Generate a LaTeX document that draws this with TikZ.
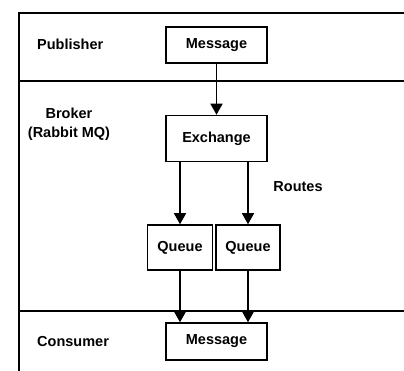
\documentclass[tikz,border=0pt]{standalone}
\usepackage{fontspec}
\setmainfont{Liberation Sans}
\usetikzlibrary{arrows.meta}
\begin{document}
\begin{tikzpicture}[x=1pt, y=-1pt, line join=miter,
    box/.style={draw, line width=1.5pt, inner sep=0pt, font=\bfseries\fontsize{14.5}{19}\selectfont},
    lbl/.style={font=\bfseries\fontsize{14.5}{19}\selectfont, align=center, inner sep=0pt},
    flow/.style={line width=1.5pt, -{Triangle[length=11pt,width=12pt]}}]

    \useasboundingbox (0,0) rectangle (404,371);
    \begin{scope}
        \clip (0,0) rectangle (404,371);
        \draw[line width=1.5pt] (19,380) -- (19,13) -- (410,13);
        \draw[line width=1.5pt] (19,81) -- (410,81);
        \draw[line width=1.5pt] (19,311) -- (410,311);
    \end{scope}

    \node[lbl, anchor=west] (publisher) at (37,44) {Publisher};
    \node[lbl] (broker) at (69,124) {Broker\\(Rabbit MQ)};
    \node[lbl] (routes) at (298,187) {Routes};
    \node[lbl, anchor=west] (consumer) at (37,342) {Consumer};

    \node[box, minimum width=101pt, minimum height=36pt] (pubmsg) at (216.5,45) {Message};
    \node[box, minimum width=101pt, minimum height=46pt] (exchange) at (216.5,138.5) {Exchange};
    \node[box, minimum width=65pt, minimum height=45pt] (queueA) at (180,247.5) {Queue};
    \node[box, minimum width=64pt, minimum height=45pt] (queueB) at (248,247.5) {Queue};
    \node[box, minimum width=101pt, minimum height=37pt] (conmsg) at (216.5,341.5) {Message};

    \draw[flow] (pubmsg.south) -- (exchange.north);
    \draw[flow] (exchange.south -| queueA.north) -- (queueA.north);
    \draw[flow] (exchange.south -| queueB.north) -- (queueB.north);
    \draw[flow] (queueA.south) -- (queueA.south |- conmsg.north);
    \draw[flow] (queueB.south) -- (queueB.south |- conmsg.north);

\end{tikzpicture}
\end{document}
